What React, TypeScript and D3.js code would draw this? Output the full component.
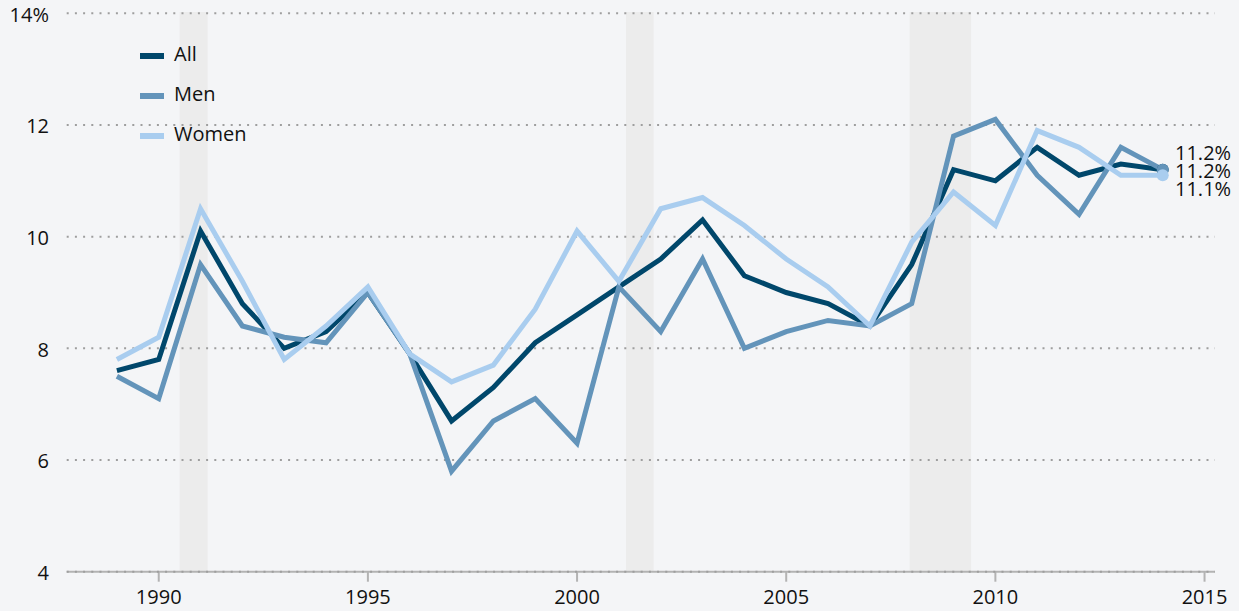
import React from "react";
import * as d3 from "d3";

const years = [1989,1990,1991,1992,1993,1994,1995,1996,1997,1998,1999,2000,2001,2002,2003,2004,2005,2006,2007,2008,2009,2010,2011,2012,2013,2014];
const allValues = [7.6,7.8,10.1,8.8,8.0,8.3,9.0,7.9,6.7,7.3,8.1,8.6,9.1,9.6,10.3,9.3,9.0,8.8,8.4,9.5,11.2,11.0,11.6,11.1,11.3,11.2];
const menValues = [7.5,7.1,9.5,8.4,8.2,8.1,9.0,7.9,5.8,6.7,7.1,6.3,9.1,8.3,9.6,8.0,8.3,8.5,8.4,8.8,11.8,12.1,11.1,10.4,11.6,11.2];
const womenValues = [7.8,8.2,10.5,9.2,7.8,8.4,9.1,7.9,7.4,7.7,8.7,10.1,9.2,10.5,10.7,10.2,9.6,9.1,8.4,9.9,10.8,10.2,11.9,11.6,11.1,11.1];
const seriesNames = ["All", "Men", "Women"];
const seriesColors = ["#00476b", "#6394ba", "#a9cdef"];
const recessions: [number, number][] = [[1990.5, 1991.17], [2001.17, 2001.83], [2007.95, 2009.42]];
const yTicks = [4, 6, 8, 10, 12, 14];
const xTicks = [1990, 1995, 2000, 2005, 2010, 2015];
const endLabels = ["11.2%", "11.2%", "11.1%"];

const W = 1239, H = 611;
const FONT = "'Open Sans', sans-serif";

export default function App() {
  const x = d3.scaleLinear().domain([1987.8, 2015.25]).range([66.7, 1215]);
  const y = d3.scaleLinear().domain([4, 14]).range([571.7, 13.3]);
  const seriesData = [allValues, menValues, womenValues];
  const line = d3.line<number>().x((_, i) => x(years[i])).y((v) => y(v));

  // end label positions with collision avoidance
  const last = years.length - 1;
  const ends = seriesData.map((s, i) => ({ i, py: y(s[last]) }));
  const order = [1, 0, 2];
  const gap = 18.3;
  const mean = d3.mean(ends, (e) => e.py) as number;
  const labelY: number[] = [];
  order.forEach((si, k) => {
    labelY[si] = mean + 1 + (k - 1) * gap;
  });

  return (
    <svg width={W} height={H} style={{ position: "absolute", left: 0, top: 0, display: "block" }} fontFamily={FONT}>
      <rect x={0} y={0} width={W} height={H} fill="#f4f5f7" />
      {recessions.map(([a, b], i) => (
        <rect key={i} x={x(a)} y={12} width={x(b) - x(a)} height={y(4) - 12} fill="#ececec" />
      ))}
      <line x1={x.range()[0]} x2={x.range()[1]} y1={y(4)} y2={y(4)} stroke="#b3b3b3" strokeWidth={2} />
      {xTicks.map((t) => (
        <line key={t} x1={x(t)} x2={x(t)} y1={y(4)} y2={y(4) + 10} stroke="#b3b3b3" strokeWidth={2} />
      ))}
      {yTicks.map((t) => (
        <line key={t} x1={x.range()[0]} x2={x.range()[1]} y1={y(t)} y2={y(t)} stroke="#9e9e9e" strokeWidth={2} strokeDasharray="2 6.2" />
      ))}
      {yTicks.map((t) => (
        <text key={t} x={49} y={y(t) + 3} textAnchor="end" dominantBaseline="middle" fontSize={20} fill="#111">
          {t === 14 ? "14%" : String(t)}
        </text>
      ))}
      {xTicks.map((t) => (
        <text key={t} x={x(t)} y={599} textAnchor="middle" dominantBaseline="middle" fontSize={20} fill="#111">
          {t}
        </text>
      ))}
      {seriesData.map((s, i) => (
        <path key={i} d={line(s) || ""} fill="none" stroke={seriesColors[i]} strokeWidth={5} strokeLinejoin="miter" />
      ))}
      {seriesData.map((s, i) => (
        <circle key={i} cx={x(years[last])} cy={y(s[last])} r={6} fill={seriesColors[i]} />
      ))}
      {seriesData.map((s, i) => (
        <text key={i} x={1175} y={labelY[i]} dominantBaseline="middle" fontSize={20} fill="#111">
          {endLabels[i]}
        </text>
      ))}
      {seriesNames.map((n, i) => (
        <g key={n} transform={`translate(0,${56 + i * 40})`}>
          <line x1={140} x2={164} y1={0} y2={0} stroke={seriesColors[i]} strokeWidth={6} />
          <text x={174} y={0} dominantBaseline="middle" fontSize={20} fill="#111">{n}</text>
        </g>
      ))}
    </svg>
  );
}
